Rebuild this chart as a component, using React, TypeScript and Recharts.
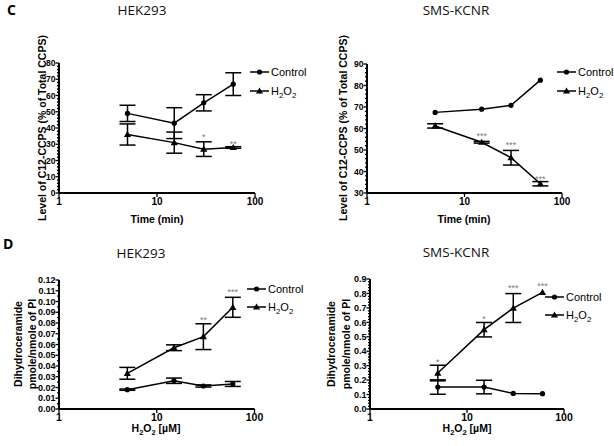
import React from 'react';
import { LineChart, Line, XAxis, YAxis, ErrorBar, Legend } from 'recharts';

const W = 614;
const H = 446;
const AXIS_FONT = '"Liberation Sans", Arial, sans-serif';
const TITLE_FONT = '"Open Sans", "Noto Sans", sans-serif';

const doses = [5, 15, 30, 60];
const xTicks = [1, 10, 100];

// C - HEK293, time course
const hekTimeControl = [49, 43, 55.5, 67];
const hekTimeControlErr = [5, 9.5, 5, 7];
const hekTimeH2O2 = [36, 31, 27, 28];
const hekTimeH2O2Err = [6.5, 6.5, 4.5, 0.5];
const hekTimeStars = ['', '', '*', '**'];
const hekTimeStarY = [null, null, 35.5, 31.5];

// C - SMS-KCNR, time course
const smsTimeControl = [67.5, 69, 70.8, 82.5];
const smsTimeControlErr = [null, null, null, null];
const smsTimeH2O2 = [61.2, 53.6, 46.4, 34.3];
const smsTimeH2O2Err = [1, 0.4, 3.4, 1];
const smsTimeStars = ['', '***', '***', '***'];
const smsTimeStarY = [null, 57.4, 53.1, 37.6];

// D - HEK293, dose
const hekDoseControl = [0.018, 0.0263, 0.0214, 0.0233];
const hekDoseControlErr = [0.0006, 0.0025, 0.001, 0.0023];
const hekDoseH2O2 = [0.0332, 0.057, 0.0673, 0.0946];
const hekDoseH2O2Err = [0.0055, 0.0027, 0.012, 0.0093];
const hekDoseStars = ['', '', '**', '***'];
const hekDoseStarY = [null, null, 0.0843, 0.111];

// D - SMS-KCNR, dose
const smsDoseControl = [0.152, 0.152, 0.108, 0.106];
const smsDoseControlErr = [0.05, 0.047, null, null];
const smsDoseH2O2 = [0.249, 0.549, 0.699, 0.808];
const smsDoseH2O2Err = [0.054, 0.05, 0.1, null];
const smsDoseStars = ['*', '*', '***', '***'];
const smsDoseStarY = [0.34, 0.637, 0.849, 0.868];

const cTimeMajor = [0, 10, 20, 30, 40, 50, 60, 70, 80];
const cSmsMajor = [30, 40, 50, 60, 70, 80, 90];
const dHekMajor = [0, 0.01, 0.02, 0.03, 0.04, 0.05, 0.06, 0.07, 0.08, 0.09, 0.1, 0.11, 0.12];
const dSmsMajor = [0, 0.1, 0.2, 0.3, 0.4, 0.5, 0.6, 0.7, 0.8, 0.9];

type Row = {
  x: number;
  control: number;
  controlErr: number | null;
  h2o2: number;
  h2o2Err: number | null;
  star: string;
  starY: number | null;
};

const buildRows = (
  ctrl: number[],
  ctrlErr: (number | null)[],
  h2: number[],
  h2Err: (number | null)[],
  stars: string[],
  starY: (number | null)[]
): Row[] =>
  doses.map((d, i) => ({
    x: d,
    control: ctrl[i],
    controlErr: ctrlErr[i],
    h2o2: h2[i],
    h2o2Err: h2Err[i],
    star: stars[i],
    starY: starY[i],
  }));

const minorTicks = (min: number, max: number, step: number) => {
  const out: number[] = [];
  const n = Math.round((max - min) / step);
  for (let i = 0; i <= n; i++) out.push(Number((min + i * step).toFixed(6)));
  return out;
};

type PanelProps = {
  data: Row[];
  plot: { left: number; right: number; top: number; bottom: number };
  domain: [number, number];
  major: number[];
  minorStep: number;
  digits: number;
  yFont: number;
  xFont: number;
  legend: { x: number; y: number; dy: number };
};

const CircleDot = (p: any) => {
  if (p.cx == null || p.cy == null) return <g />;
  return <circle cx={p.cx} cy={p.cy} r={2.6} fill="#000" />;
};

const TriangleDot = (p: any) => {
  if (p.cx == null || p.cy == null) return <g />;
  const { cx, cy } = p;
  return <path d={`M${cx},${cy - 3.6} L${cx + 3.6},${cy + 2.6} L${cx - 3.6},${cy + 2.6} Z`} fill="#000" />;
};

const StarDot = (p: any) => {
  if (p.cx == null || p.cy == null || !p.payload || !p.payload.star) return <g />;
  return (
    <text x={p.cx} y={p.cy + 5} textAnchor="middle" fontSize={9} fill="#7a7a7a" fontFamily={AXIS_FONT}>
      {p.payload.star}
    </text>
  );
};

const H2O2Text = ({ size }: { size: number }) => (
  <span>
    H<span style={{ fontSize: size * 0.72, position: 'relative', top: 3 }}>2</span>O
    <span style={{ fontSize: size * 0.72, position: 'relative', top: 3 }}>2</span>
  </span>
);

const LegendBox = ({ dy }: { dy: number }) => {
  const rows = [
    { key: 'control', label: <span>Control</span>, dot: 'circle' },
    { key: 'h2o2', label: <H2O2Text size={11} />, dot: 'triangle' },
  ];
  return (
    <div style={{ fontFamily: AXIS_FONT, fontSize: 11, color: '#000' }}>
      {rows.map((r) => (
        <div key={r.key} style={{ display: 'flex', alignItems: 'center', height: dy, whiteSpace: 'nowrap' }}>
          <svg width={20} height={10} style={{ marginRight: 1 }}>
            <line x1={0} x2={19} y1={5} y2={5} stroke="#000" strokeWidth={1.5} />
            {r.dot === 'circle' ? (
              <circle cx={9.5} cy={5} r={2.6} fill="#000" />
            ) : (
              <path d="M9.5,1.4 L13.1,7.6 L5.9,7.6 Z" fill="#000" />
            )}
          </svg>
          {r.label}
        </div>
      ))}
    </div>
  );
};

const Panel = ({ data, plot, domain, major, minorStep, digits, yFont, xFont, legend }: PanelProps) => {
  const yAxisWidth = 40;
  const xAxisHeight = 20;
  const margin = {
    top: plot.top,
    left: plot.left - yAxisWidth,
    right: W - plot.right,
    bottom: H - plot.bottom - xAxisHeight,
  };
  const ticks = minorTicks(domain[0], domain[1], minorStep);
  const isMajor = (v: number) => major.some((m) => Math.abs(m - v) < 1e-7);

  const YTick = (p: any) => {
    const v = p.payload.value;
    const big = isMajor(v);
    return (
      <g>
        <line x1={p.x - (big ? 3.5 : 2)} x2={p.x} y1={p.y} y2={p.y} stroke="#000" strokeWidth={1.3} />
        {big && (
          <text
            x={p.x - 3.5}
            y={p.y}
            dy="0.36em"
            textAnchor="end"
            fontSize={yFont}
            fontWeight="bold"
            fontFamily={AXIS_FONT}
            fill="#000"
          >
            {v.toFixed(digits)}
          </text>
        )}
      </g>
    );
  };

  return (
    <div style={{ position: 'absolute', left: 0, top: 0 }}>
      <LineChart width={W} height={H} data={data} margin={margin}>
        <XAxis
          dataKey="x"
          type="number"
          scale="log"
          domain={[1, 100]}
          ticks={xTicks}
          interval={0}
          allowDataOverflow
          height={xAxisHeight}
          tickSize={4}
          tickMargin={1}
          axisLine={{ stroke: '#000', strokeWidth: 2 }}
          tickLine={{ stroke: '#000', strokeWidth: 1.3 }}
          tick={{ fill: '#000', fontSize: xFont, fontWeight: 'bold', fontFamily: AXIS_FONT }}
        />
        <YAxis
          type="number"
          domain={domain}
          ticks={ticks}
          interval={0}
          allowDataOverflow
          width={yAxisWidth}
          tickSize={0}
          tickMargin={0}
          tickLine={false}
          axisLine={{ stroke: '#000', strokeWidth: 2 }}
          tick={YTick}
        />
        <Legend
          layout="vertical"
          align="center"
          verticalAlign="middle"
          wrapperStyle={{ left: legend.x, top: legend.y - legend.dy / 2, width: 'auto' }}
          content={() => <LegendBox dy={legend.dy} />}
        />
        <Line
          dataKey="control"
          name="Control"
          stroke="#000"
          strokeWidth={1.5}
          dot={CircleDot}
          activeDot={false}
          isAnimationActive={false}
        >
          <ErrorBar dataKey="controlErr" direction="y" width={8} stroke="#000" strokeWidth={1.5} />
        </Line>
        <Line
          dataKey="h2o2"
          name="H2O2"
          stroke="#000"
          strokeWidth={1.5}
          dot={TriangleDot}
          activeDot={false}
          isAnimationActive={false}
        >
          <ErrorBar dataKey="h2o2Err" direction="y" width={8} stroke="#000" strokeWidth={1.5} />
        </Line>
        <Line
          dataKey="starY"
          stroke="none"
          legendType="none"
          dot={StarDot}
          activeDot={false}
          isAnimationActive={false}
        />
      </LineChart>
    </div>
  );
};

const VLabel = ({ x, y, size, children }: { x: number; y: number; size: number; children: React.ReactNode }) => (
  <text
    transform={`translate(${x},${y}) rotate(-90)`}
    textAnchor="middle"
    fontSize={size}
    fontFamily={AXIS_FONT}
    fontWeight="bold"
    fill="#000"
  >
    {children}
  </text>
);

const Labels = () => {
  const bold = { fontFamily: AXIS_FONT, fontWeight: 'bold' as const, fill: '#000' };
  const title = { fontFamily: TITLE_FONT, fontSize: 13.5, fill: '#111', textAnchor: 'middle' as const };
  const sub = { fontSize: 7.5 };
  return (
    <svg width={W} height={H} style={{ position: 'absolute', left: 0, top: 0, pointerEvents: 'none' }}>
      <text x={7} y={15} fontSize={14} {...bold} fontFamily={TITLE_FONT}>C</text>
      <text x={3} y={249} fontSize={14} {...bold} fontFamily={TITLE_FONT}>D</text>

      <text x={142} y={15} {...title}>HEK293</text>
      <text x={456} y={15} {...title}>SMS-KCNR</text>
      <text x={141} y={258} {...title}>HEK293</text>
      <text x={456} y={257} {...title}>SMS-KCNR</text>

      <VLabel x={46} y={128} size={10.5}>Level of C12-CCPS (% of Total CCPS)</VLabel>
      <VLabel x={347} y={128} size={10.5}>Level of C12-CCPS (% of Total CCPS)</VLabel>
      <text x={157} y={219} dy="0.36em" textAnchor="middle" fontSize={10.5} {...bold}>Time (min)</text>
      <text x={464} y={219} dy="0.36em" textAnchor="middle" fontSize={10.5} {...bold}>Time (min)</text>

      <VLabel x={22} y={344} size={10.5}>Dihydroceramide</VLabel>
      <VLabel x={35.5} y={344} size={10.5}>pmole/nmole of PI</VLabel>
      <VLabel x={335} y={344} size={10.5}>Dihydroceramide</VLabel>
      <VLabel x={349.5} y={344} size={10.5}>pmole/nmole of PI</VLabel>

      <text x={156} y={432} textAnchor="middle" fontSize={10.5} {...bold}>
        H<tspan {...sub} dy={3}>2</tspan><tspan dy={-3}>O</tspan><tspan {...sub} dy={3}>2</tspan>
        <tspan dy={-3}> [µM]</tspan>
      </text>
      <text x={467} y={432} textAnchor="middle" fontSize={10.5} {...bold}>
        H<tspan {...sub} dy={3}>2</tspan><tspan dy={-3}>O</tspan><tspan {...sub} dy={3}>2</tspan>
        <tspan dy={-3}> [µM]</tspan>
      </text>
    </svg>
  );
};

export default function App() {
  const cHek = buildRows(hekTimeControl, hekTimeControlErr, hekTimeH2O2, hekTimeH2O2Err, hekTimeStars, hekTimeStarY);
  const cSms = buildRows(smsTimeControl, smsTimeControlErr, smsTimeH2O2, smsTimeH2O2Err, smsTimeStars, smsTimeStarY);
  const dHek = buildRows(hekDoseControl, hekDoseControlErr, hekDoseH2O2, hekDoseH2O2Err, hekDoseStars, hekDoseStarY);
  const dSms = buildRows(smsDoseControl, smsDoseControlErr, smsDoseH2O2, smsDoseH2O2Err, smsDoseStars, smsDoseStarY);

  return (
    <div style={{ position: 'absolute', left: 0, top: 0, width: W, height: H, background: '#fff', overflow: 'hidden' }}>
      <Panel
        data={cHek}
        plot={{ left: 59, right: 255, top: 63, bottom: 193 }}
        domain={[0, 80]}
        major={cTimeMajor}
        minorStep={2}
        digits={0}
        yFont={8.5}
        xFont={10}
        legend={{ x: 250, y: 72, dy: 19 }}
      />
      <Panel
        data={cSms}
        plot={{ left: 367, right: 562, top: 64, bottom: 193 }}
        domain={[30, 90]}
        major={cSmsMajor}
        minorStep={2}
        digits={0}
        yFont={8.5}
        xFont={10}
        legend={{ x: 557, y: 72, dy: 19 }}
      />
      <Panel
        data={dHek}
        plot={{ left: 59, right: 254.5, top: 280, bottom: 409 }}
        domain={[0, 0.12]}
        major={dHekMajor}
        minorStep={0.005}
        digits={2}
        yFont={9}
        xFont={10.5}
        legend={{ x: 247, y: 289, dy: 18 }}
      />
      <Panel
        data={dSms}
        plot={{ left: 370, right: 564, top: 279, bottom: 409 }}
        domain={[0, 0.9]}
        major={dSmsMajor}
        minorStep={0.02}
        digits={1}
        yFont={9}
        xFont={10.5}
        legend={{ x: 545, y: 297, dy: 18 }}
      />
      <Labels />
    </div>
  );
}
